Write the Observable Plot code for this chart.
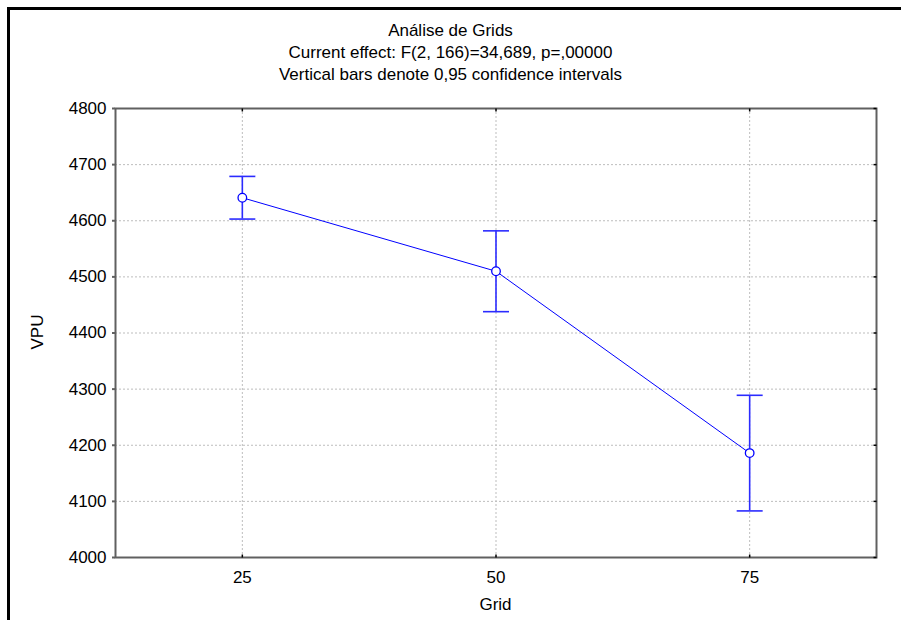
<!DOCTYPE html>
<html>
<head>
<meta charset="utf-8">
<script src="https://cdn.jsdelivr.net/npm/d3@7"></script>
<script src="https://cdn.jsdelivr.net/npm/@observablehq/plot@0.6"></script>
<style>
  html, body { margin: 0; padding: 0; background: #fff; overflow: hidden; }
  #chart { position: relative; width: 901px; height: 620px; font-family: "Liberation Sans", Arial, sans-serif; color: #000; }
  #chart svg { position: absolute; left: 0; top: 0; }
  .txt { position: absolute; font-size: 17px; line-height: 17px; white-space: nowrap; }
  .center { left: 0; width: 901px; text-align: center; }
  .edge { position: absolute; background: #000; }
</style>
</head>
<body>
<div id="chart">
  <div class="edge" style="left:7px; top:7px; width:3px; height:613px;"></div>
  <div class="edge" style="left:7px; top:7px; width:894px; height:3px;"></div>
  <div class="txt center" style="top:22px;">Análise de Grids</div>
  <div class="txt center" style="top:44px;">Current effect: F(2, 166)=34,689, p=,00000</div>
  <div class="txt center" style="top:65.5px;">Vertical bars denote 0,95 confidence intervals</div>
  <div class="txt" style="left:37px; top:332px; transform: translate(-50%, -50%) rotate(-90deg);">VPU</div>
  <div class="txt" style="left:495.5px; top:595.5px; transform: translateX(-50%);">Grid</div>
</div>
<script>
// Grid size levels and VPU means with their 0.95 confidence limits
const grid = [25, 50, 75];
const vpuMean = [4641, 4510, 4186];
const ciLow = [4603, 4438, 4083];
const ciHigh = [4679, 4582, 4289];

// Axis ticks and domains
const xTicks = [25, 50, 75];
const yTicks = [4000, 4100, 4200, 4300, 4400, 4500, 4600, 4700, 4800];
const xDomain = [12.5, 87.5];
const yDomain = [4000, 4800];

const rows = grid.map((g, i) => ({grid: g, mean: vpuMean[i], lo: ciLow[i], hi: ciHigh[i]}));

// Small line symbols for error-bar caps and inward frame ticks
const lineSymbol = (dx0, dy0, dx1, dy1) => ({
  draw(ctx, size) {
    const l = Math.sqrt(size / Math.PI);
    ctx.moveTo(dx0 * l, dy0 * l);
    ctx.lineTo(dx1 * l, dy1 * l);
  }
});
const capSym = lineSymbol(-1, 0, 1, 0);
const tickUp = lineSymbol(0, 0, 0, -1);
const tickDown = lineSymbol(0, 0, 0, 1);
const tickLeft = lineSymbol(0, 0, -1, 0);

const blue = "#0000ff";
const barBlue = "#2b2bff";
const frameGray = "#606060";
const gridGray = "#bdbdbd";

const plot = Plot.plot({
  width: 901,
  height: 620,
  marginTop: 108,
  marginBottom: 63,
  marginLeft: 115,
  marginRight: 25,
  style: {fontSize: "17px", fontFamily: "'Liberation Sans', Arial, sans-serif", color: "#000", background: "transparent"},
  x: {domain: xDomain, label: null},
  y: {domain: yDomain, label: null},
  marks: [
    Plot.gridX(xTicks, {stroke: gridGray, strokeOpacity: 1, strokeDasharray: "2,2"}),
    Plot.gridY(yTicks.slice(1, -1), {stroke: gridGray, strokeOpacity: 1, strokeDasharray: "2,2"}),
    Plot.frame({stroke: frameGray, strokeWidth: 2}),
    Plot.axisY(yTicks, {tickSize: 3, tickPadding: 6, tickFormat: d => String(d), stroke: frameGray, strokeWidth: 2, label: null}),
    Plot.axisX(xTicks, {tickSize: 0, tickPadding: 13.4, tickFormat: d => String(d), label: null}),
    // inward ticks on bottom, top and right edges
    Plot.dot(xTicks, {x: d => d, y: yDomain[0], symbol: tickUp, r: 3, fill: "none", stroke: "#000", strokeWidth: 1.5}),
    Plot.dot(xTicks, {x: d => d, y: yDomain[1], symbol: tickDown, r: 3, fill: "none", stroke: "#000", strokeWidth: 1.5}),
    Plot.dot(yTicks, {x: xDomain[1], y: d => d, symbol: tickLeft, r: 3, fill: "none", stroke: "#000", strokeWidth: 1.5}),
    // mean profile
    Plot.line(rows, {x: "grid", y: "mean", stroke: blue, strokeWidth: 1}),
    // confidence interval bars with caps
    Plot.ruleX(rows, {x: "grid", y1: "lo", y2: "hi", stroke: barBlue, strokeWidth: 1.6}),
    Plot.dot(rows, {x: "grid", y: "lo", symbol: capSym, r: 13, fill: "none", stroke: barBlue, strokeWidth: 1.6}),
    Plot.dot(rows, {x: "grid", y: "hi", symbol: capSym, r: 13, fill: "none", stroke: barBlue, strokeWidth: 1.6}),
    // mean markers
    Plot.dot(rows, {x: "grid", y: "mean", r: 4.3, fill: "#fff", stroke: blue, strokeWidth: 1.3})
  ]
});

document.getElementById("chart").prepend(plot);
</script>
</body>
</html>
